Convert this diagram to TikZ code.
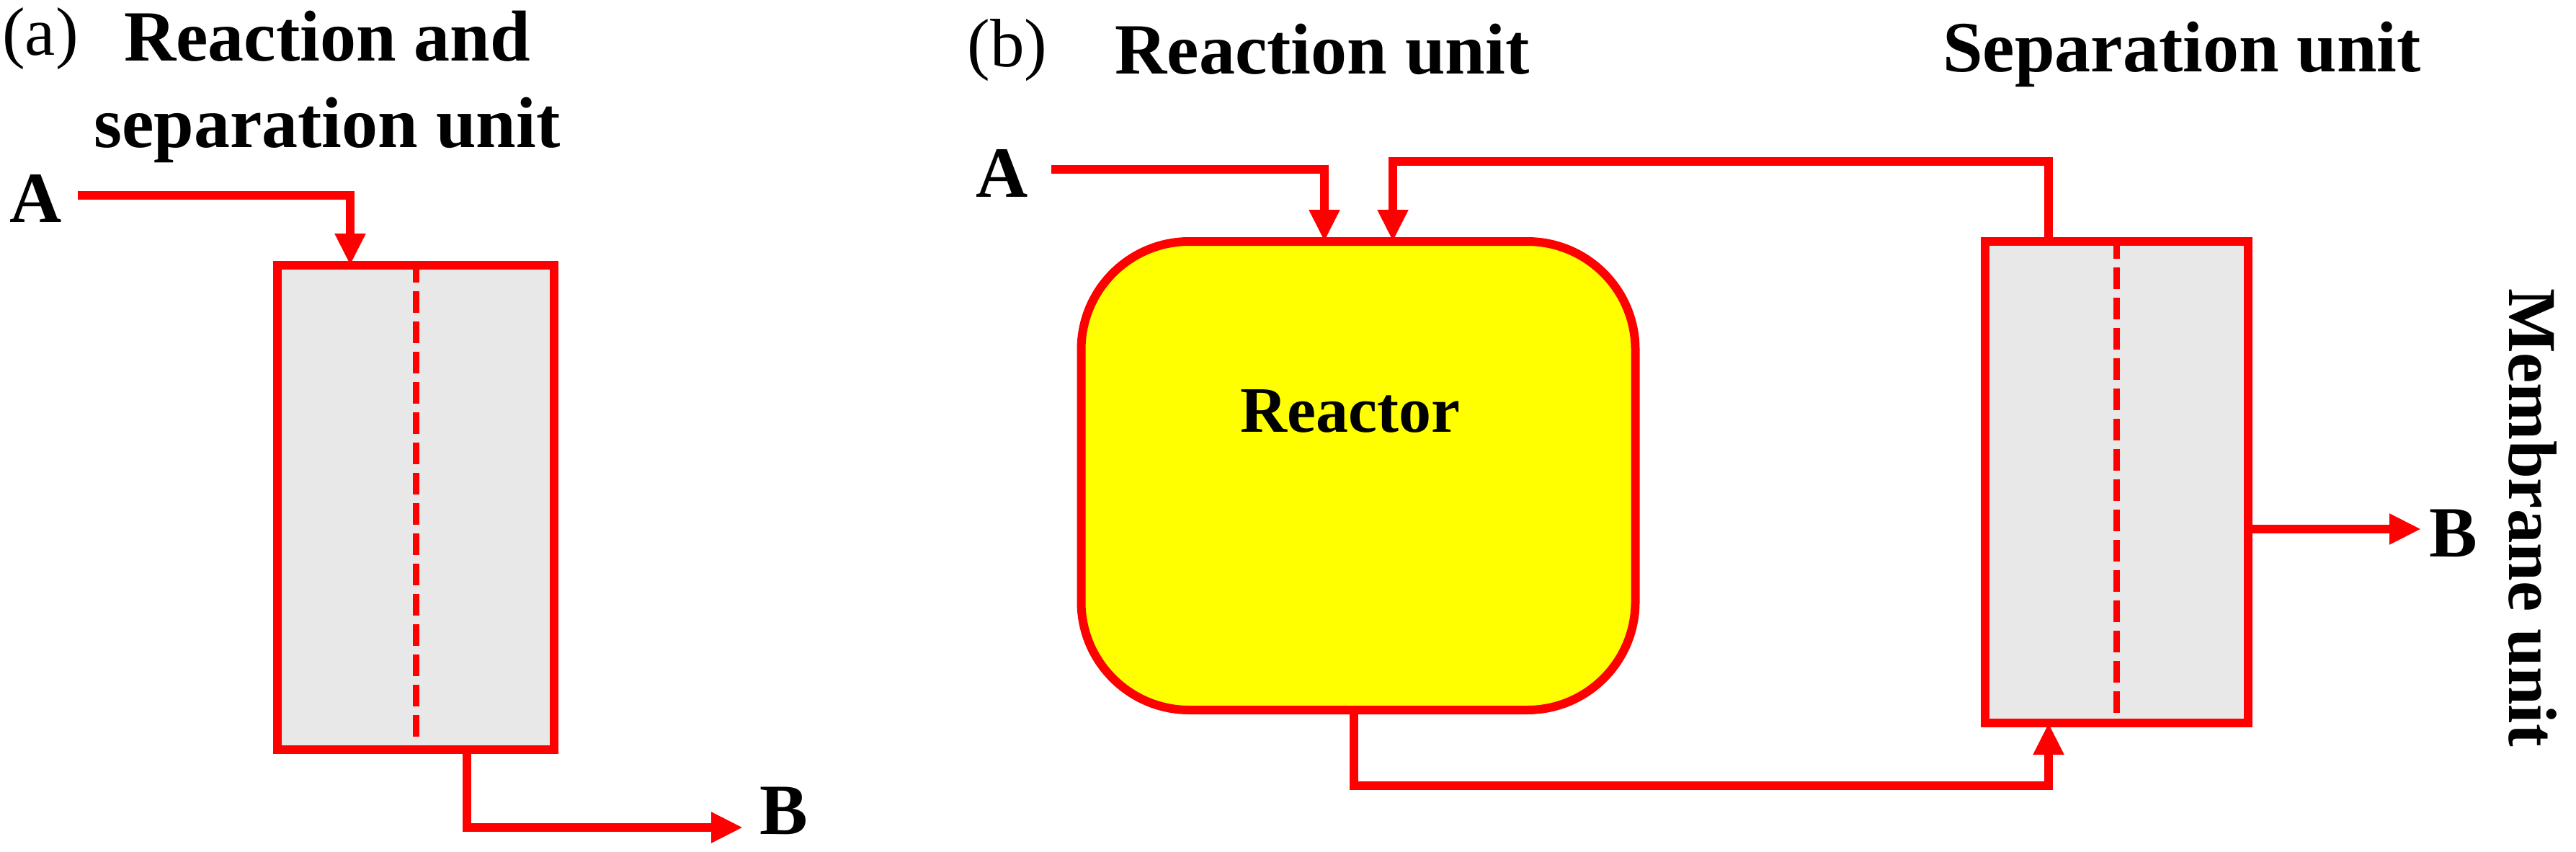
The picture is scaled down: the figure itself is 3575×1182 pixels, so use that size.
\documentclass[tikz,border=0pt]{standalone}
\usepackage{fontspec}
\setmainfont{Liberation Serif}
\usetikzlibrary{arrows.meta}
\definecolor{reacyellow}{rgb}{1,1,0}
\begin{document}
\begin{tikzpicture}[x=1pt,y=-1pt,
  pipe/.style={draw=red,line width=12pt},
  arr/.style={pipe,-{Triangle[length=44pt,width=40pt]}},
  unit/.style={draw=red,line width=12pt,fill=gray!18},
  lab/.style={font=\fontsize{100}{110}\selectfont\bfseries,inner sep=0pt},
  memb/.style={draw=red,line width=9pt,dash pattern=on 30pt off 12pt}]
\useasboundingbox (0,0) rectangle (3575,1182);
% panel a
\node[lab,font=\fontsize{95}{100}\selectfont] (ta) at (56,54) {(a)};
\node[lab] (t1) at (454,50) {Reaction and};
\node[lab] (t2) at (454,180) {separation unit};
\node[unit,minimum width=384pt,minimum height=672pt,inner sep=0pt] (boxa) at (577,704) {};
\draw[memb] (boxa.north) -- (boxa.south);
\node[lab] (Aa) at (50,275) {A};
\node[lab] (Ba) at (1088,1125) {B};
\coordinate (ca) at (108,271);
\coordinate (cb) at (486,271);
\draw[arr] (ca) -- (cb) -- (486,368);
\coordinate (cc) at (648,1040);
\draw[arr] (cc) -- (648,1148) -- (1031,1148);
% panel b
\node[lab,font=\fontsize{95}{100}\selectfont] (tb) at (1398,70) {(b)};
\node[lab] (t3) at (1835,68) {Reaction unit};
\node[lab] (t4) at (3028,75) {Separation unit};
\node[lab,rotate=-90,font=\fontsize{95}{100}\selectfont\bfseries] (t5) at (3515,718) {Membrane unit};
\node[draw=red,line width=12pt,fill=reacyellow,rounded corners=150pt,minimum width=769pt,minimum height=650pt,inner sep=0pt] (reac) at (1885,660) {};
\node[lab,font=\fontsize{90}{100}\selectfont\bfseries] (rl) at (1874,570) {Reactor};
\node[unit,minimum width=365pt,minimum height=668pt,inner sep=0pt] (sep) at (2937,669) {};
\draw[memb] (sep.north) -- (sep.south);
\node[lab] (Ab) at (1391,240) {A};
\node[lab] (Bb) at (3405,740) {B};
\coordinate (d1) at (1459,235);
\draw[arr] (d1) -- (1838,235) -- (1838,335);
\coordinate (d2) at (2843,335);
\draw[arr] (d2) -- (2843,224) -- (1933,224) -- (1933,335);
\coordinate (d3) at (1879,985);
\draw[arr] (d3) -- (1879,1090) -- (2843,1090) -- (2843,1003);
\coordinate (d4) at (3119,734);
\draw[arr] (d4) -- (3360,734);
\end{tikzpicture}
\end{document}
